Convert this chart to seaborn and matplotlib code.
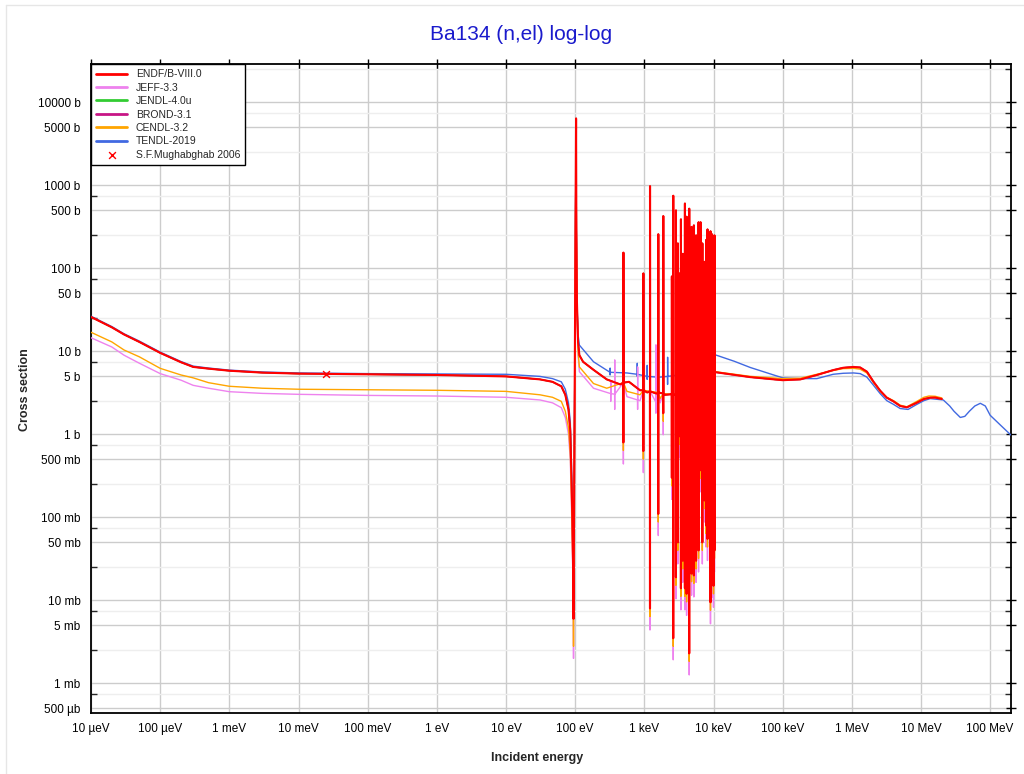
import numpy as np
import pandas as pd
import matplotlib
matplotlib.use('Agg')
import matplotlib.pyplot as plt
import seaborn as sns
from matplotlib.ticker import FixedLocator, NullLocator
from matplotlib.lines import Line2D

# --- data (energy in eV, cross section in b) ---

# ENDF/B-VIII.0 smooth part
endf_e = [1e-5, 2e-5, 3e-5, 5e-5, 1e-4, 2e-4, 3e-4, 5e-4, 1e-3, 3e-3, 1e-2, 0.1, 1, 10, 31, 47,
          63, 72, 80, 85, 90, 93, 94.6,
          103, 104, 106, 110, 115, 130, 184, 286, 450, 600, 866, 1100, 1500, 2000, 3000,
          4000, 5000, 7000, 8700, 10500, 11000, 34e3, 100e3, 180e3, 312e3, 537e3, 750e3,
          1.06e6, 1.32e6, 1.65e6, 2.06e6, 2.57e6, 3.2e6, 4e6, 5e6, 6.25e6, 8.7e6, 1.1e7,
          1.36e7, 1.6e7, 2e7]
endf_s = [26, 19.5, 16, 13, 9.6, 7.4, 6.5, 6.2, 5.85, 5.55, 5.4, 5.3, 5.2, 5.0, 4.6, 4.3,
          3.8, 3.0, 2.0, 1.1, 0.16, 0.03, 0.006,
          6400, 300, 40, 13, 9.0, 7.5, 6.0, 4.6, 4.0, 4.3, 3.4, 3.2, 3.1, 3.0, 2.9,
          2.8, 2.7, 2.6, 2.6, 5.6, 5.6, 4.9, 4.5, 4.6, 5.2, 5.95, 6.35,
          6.5, 6.4, 5.7, 4.3, 3.36, 2.77, 2.5, 2.2, 2.12, 2.41, 2.67,
          2.77, 2.78, 2.67]

# resolved resonances (ENDF, shared by JEFF / JENDL / BROND / CENDL)
res_e = [498, 968, 1208, 1592, 1880, 2500, 2620, 2865, 3050, 3200, 3380, 3600, 3860, 4085,
         4250, 4460, 4650, 4820, 5200, 5600, 6080, 6500, 6900, 7420, 7800, 8190, 8600,
         9050, 9400, 9680, 10000, 10330]
res_peak = [155, 87, 980, 258, 427, 80, 751, 500, 200, 87, 390, 150, 605, 420,
            300, 525, 180, 316, 330, 250, 360, 360, 200, 120, 220, 295, 150,
            280, 260, 250, 240, 250]
res_dip = [0.8, 0.63, 0.008, 0.11, 1.8, 0.3, 0.0035, 0.019, 0.05, 0.95, 0.014, 0.03, 0.014, 0.012,
           0.05, 0.0023, 0.1, 0.021, 0.02, 0.03, 0.04, 0.37, 0.05, 0.16, 0.08, 0.055, 0.2,
           0.0095, 0.03, 0.02, 0.015, 0.04]
res_base = [4.2, 3.4, 3.3, 3.2, 3.1, 3.05, 3.0, 3.0, 2.95, 2.9, 2.9, 2.9, 2.9, 2.8,
            2.8, 2.8, 2.8, 2.8, 2.8, 2.75, 2.7, 2.7, 2.7, 2.7, 2.7, 2.7, 2.65,
            2.6, 2.6, 2.6, 2.6, 2.6]

# JEFF-3.3
jeff_e = [1e-5, 2e-5, 3e-5, 5e-5, 1e-4, 2e-4, 3e-4, 5e-4, 1e-3, 3e-3, 1e-2, 0.1, 1, 10, 31, 47,
          63, 72, 80, 85, 90, 93, 94.6,
          103, 104, 106, 110, 115, 184, 286, 560, 866, 1690, 3000, 8700, 10500]
jeff_s = [14.6, 11.3, 9.0, 7.2, 5.4, 4.5, 3.9, 3.6, 3.27, 3.12, 3.04, 2.95, 2.9, 2.8, 2.6, 2.4,
          2.1, 1.6, 1.0, 0.5, 0.07, 0.015, 0.002,
          6400, 300, 40, 9, 5.7, 3.6, 3.2, 2.85, 2.55, 2.4, 2.2, 2.1, 5.6]
jeff_extra_e = [327, 373, 800, 1470]
jeff_extra_peak = [4.3, 7.9, 6.5, 12]
jeff_extra_dip = [2.5, 2.0, 2.0, 1.8]
jeff_extra_base = [3.1, 3.05, 2.6, 2.45]

# CENDL-3.2
cendl_e = [1e-5, 2e-5, 3e-5, 5e-5, 1e-4, 2e-4, 3e-4, 5e-4, 1e-3, 3e-3, 1e-2, 0.1, 1, 10, 31, 47,
           63, 72, 80, 85, 90, 93, 94.6,
           103, 104, 106, 110, 115, 184, 286, 560, 866, 1690, 3000, 8700, 10500, 34e3, 100e3,
           180e3, 312e3, 537e3, 750e3, 1.06e6, 1.32e6, 1.65e6, 2.06e6, 2.57e6, 3.2e6, 4e6,
           5e6, 6.25e6, 8.7e6, 1.1e7, 1.3e7, 1.6e7, 2e7]
cendl_s = [17, 13, 10.4, 8.6, 6.25, 5.2, 4.8, 4.2, 3.8, 3.6, 3.5, 3.45, 3.4, 3.3, 3.0, 2.8,
           2.5, 1.9, 1.2, 0.6, 0.09, 0.02, 0.0028,
           6400, 300, 40, 10, 6.5, 4.1, 3.6, 3.3, 3.0, 2.7, 2.6, 2.5, 5.7, 5.0, 4.7,
           4.75, 5.3, 5.9, 6.2, 6.25, 6.1, 5.5, 4.2, 3.3, 2.8, 2.55,
           2.25, 2.15, 2.5, 2.8, 2.9, 2.88, 2.75]

# TENDL-2019
tendl_e = [1e-5, 2e-5, 3e-5, 5e-5, 1e-4, 2e-4, 3e-4, 5e-4, 1e-3, 3e-3, 1e-2, 0.1, 1, 10, 31, 47,
           63, 72, 80, 85, 90, 93, 94.6,
           103, 104, 106, 110, 115, 184, 560, 1690, 3300, 6000, 10300, 10500, 11000, 20e3, 34e3,
           60e3, 100e3, 180e3, 312e3, 537e3, 750e3, 1.06e6, 1.32e6, 1.65e6, 2.06e6, 2.57e6,
           3.2e6, 4e6, 5e6, 6.5e6, 8.7e6, 1.1e7, 1.36e7, 2.1e7, 2.6e7, 3e7, 3.7e7, 4.3e7, 5e7,
           6e7, 7.2e7, 8.5e7, 1e8, 1.4e8, 2e8]
tendl_s = [26.5, 19.9, 16.3, 13.3, 9.8, 7.55, 6.65, 6.3, 5.95, 5.65, 5.5, 5.4, 5.35, 5.3, 5.0, 4.7,
           4.3, 3.5, 2.4, 1.4, 0.25, 0.05, 0.01,
           6400, 300, 40, 16, 11.9, 7.5, 5.5, 4.9, 5.2, 5.6, 6.0, 9.1, 9.0, 7.6, 6.4,
           5.5, 4.8, 4.7, 4.7, 5.3, 5.45, 5.5, 5.4, 4.9, 3.9, 3.1,
           2.55, 2.3, 2.05, 2.0, 2.3, 2.55, 2.7, 2.6, 2.2, 1.9, 1.6, 1.65, 1.9,
           2.2, 2.37, 2.2, 1.7, 1.3, 0.98]
tendl_res_e = [320, 790, 1100, 1530, 2170, 3100, 3700, 5600, 7800]
tendl_res_peak = [6.3, 7.2, 6.8, 7.5, 8.5, 27, 9, 12, 10]
tendl_res_dip = [5.2, 5.0, 4.6, 4.5, 4.0, 3.0, 4.0, 3.5, 3.5]
tendl_res_base = [5.6, 5.3, 5.0, 4.9, 5.0, 5.2, 5.3, 5.6, 6.0]

# S.F.Mughabghab 2006 thermal point
exp_e = [0.0253]
exp_s = [5.3]

libraries = ['ENDF/B-VIII.0', 'JEFF-3.3', 'JENDL-4.0u', 'BROND-3.1', 'CENDL-3.2', 'TENDL-2019']
colors = ['#ff0000', '#ee82ee', '#33cc33', '#c71585', '#ffa500', '#4169e1']
y_ticks = [5e-4, 1e-3, 5e-3, 1e-2, 5e-2, 0.1, 0.5, 1, 5, 10, 50, 100, 500, 1000, 5000, 10000]
y_labels = ['500 µb', '1 mb', '5 mb', '10 mb', '50 mb', '100 mb', '500 mb', '1 b', '5 b',
            '10 b', '50 b', '100 b', '500 b', '1000 b', '5000 b', '10000 b']
x_ticks = [1e-5, 1e-4, 1e-3, 1e-2, 1e-1, 1, 10, 100, 1e3, 1e4, 1e5, 1e6, 1e7, 1e8]
x_labels = ['10 µeV', '100 µeV', '1 meV', '10 meV', '100 meV', '1 eV', '10 eV', '100 eV',
            '1 keV', '10 keV', '100 keV', '1 MeV', '10 MeV', '100 MeV']


def build(e, s, groups):
    e = list(e)
    s = list(s)
    for r_e, r_p, r_d, r_b in groups:
        for E, p, d, b in zip(r_e, r_p, r_d, r_b):
            e += [E * 0.997, E * 0.999, E, E * 1.003]
            s += [b, d, p, b]
    return pd.DataFrame({'E': e, 'sigma': s}).sort_values('E')


endf_res = (res_e, res_peak, res_dip, res_base)
curves = {
    'ENDF/B-VIII.0': build(endf_e, endf_s, [endf_res]),
    'JEFF-3.3': build(jeff_e, jeff_s, [(res_e, res_peak, [d * 0.55 for d in res_dip], res_base),
                                       (jeff_extra_e, jeff_extra_peak, jeff_extra_dip, jeff_extra_base)]),
    'JENDL-4.0u': build(endf_e, endf_s, [endf_res]),
    'BROND-3.1': build(endf_e, endf_s, [endf_res]),
    'CENDL-3.2': build(cendl_e, cendl_s, [(res_e, res_peak, [d * 0.8 for d in res_dip], res_base)]),
    'TENDL-2019': build(tendl_e, tendl_s, [(tendl_res_e, tendl_res_peak, tendl_res_dip, tendl_res_base)]),
}
# JEFF follows ENDF above the resolved region
jeff_fast = curves['ENDF/B-VIII.0'][curves['ENDF/B-VIII.0']['E'] > 10500]
curves['JEFF-3.3'] = pd.concat([curves['JEFF-3.3'], jeff_fast]).sort_values('E')

sns.set_theme(style='white')
plt.rcParams['font.family'] = ['Liberation Sans', 'DejaVu Sans']

fig = plt.figure(figsize=(10.24, 7.74), dpi=100)
ax = fig.add_axes([0.0889, 0.0788, 0.8984, 0.8385])
ax.set_xscale('log')
ax.set_yscale('log')

zorders = [10, 6, 4, 5, 7, 3]
widths = [1.5, 1.0, 1.0, 1.0, 1.0, 1.0]
for lib, col, z, lw in zip(libraries, colors, zorders, widths):
    df = curves[lib]
    sns.lineplot(data=df, x='E', y='sigma', color=col, lw=lw, zorder=z, label=lib,
                 estimator=None, sort=False, ax=ax)

sns.scatterplot(x=exp_e, y=exp_s, marker='x', color='red', s=24, linewidth=1,
                label='S.F.Mughabghab 2006', zorder=12, ax=ax)

ax.set_xlim(1e-5, 2e8)
ax.set_ylim(4.4e-4, 2.9e4)
ax.xaxis.set_major_locator(FixedLocator(x_ticks))
ax.xaxis.set_minor_locator(NullLocator())
ax.set_xticklabels(x_labels)
ax.yaxis.set_major_locator(FixedLocator(y_ticks))
y_minor = [m * 10.0 ** k for k in range(-4, 5) for m in (2.5, 7.5)]
y_minor = [v for v in y_minor if 4.4e-4 < v < 2.9e4]
ax.yaxis.set_minor_locator(FixedLocator(y_minor))
ax.set_yticklabels(y_labels)

ax.set_axisbelow(True)
ax.grid(which='major', color='#cccccc', lw=1)
ax.grid(which='minor', axis='y', color='#eeeeee', lw=1)
ax.tick_params(axis='both', which='major', direction='inout', length=7, width=1,
               labelsize=8.5, top=True, right=True, colors='black', pad=4)
ax.tick_params(axis='y', which='minor', direction='in', length=4, width=1, right=True, left=True)
for sp in ax.spines.values():
    sp.set_color('black')
    sp.set_linewidth(1.3)
ax.set_xlabel('')
ax.set_ylabel('')

leg = ax.legend(loc='upper left', fontsize=7.5, frameon=True, fancybox=False, edgecolor='black',
                framealpha=1, borderaxespad=0, handlelength=3.0, labelspacing=0.33, borderpad=0.5)
leg.get_frame().set_linewidth(1.0)
for h in leg.get_lines():
    h.set_linewidth(2)

fig.text(0.509, 0.955, 'Ba134 (n,el) log-log', fontsize=15, color='#1a1acc', ha='center', va='center')
fig.text(0.525, 0.021, 'Incident energy', fontsize=9, fontweight='bold', ha='center', va='center')
fig.text(0.0244, 0.496, 'Cross section', fontsize=9, fontweight='bold', rotation=90,
         ha='center', va='center')

# faint outer frame of the page
fig.add_artist(Line2D([6 / 1024, 6 / 1024], [0, 1 - 5 / 774], transform=fig.transFigure,
                      color='#e6e6e6', lw=1))
fig.add_artist(Line2D([6 / 1024, 1], [1 - 5 / 774, 1 - 5 / 774], transform=fig.transFigure,
                      color='#e6e6e6', lw=1))

fig.savefig('out.png', dpi=100)
